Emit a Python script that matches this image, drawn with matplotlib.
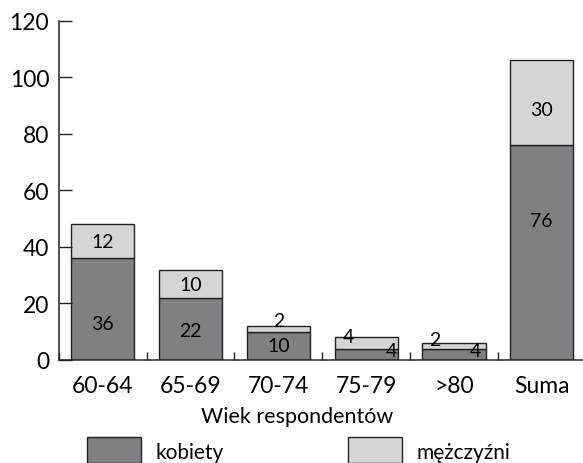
import matplotlib
matplotlib.use("Agg")
import matplotlib.pyplot as plt
from matplotlib.patches import Rectangle

# dane
kategorie = ["60-64", "65-69", "70-74", "75-79", ">80", "Suma"]
kobiety = [36, 22, 10, 4, 4, 76]
mezczyzni = [12, 10, 2, 4, 2, 30]

# gdzie stoja etykiety (x offset, y)
poz_kobiety = [(0, 13), (0, 10.6), (0, 5), (0.29, 3.2), (0.24, 3.2), (0, 49.5)]
poz_mezczyzni = [(0, 42), (0, 26.6), (0, 13.8), (-0.2, 8.2), (-0.22, 7.4), (0, 88.5)]

plt.rcParams['font.family'] = ['Lato', 'DejaVu Sans']

ciemny = "#7f8083"
jasny = "#d4d5d7"
linia = "#222222"

fig = plt.figure(figsize=(5.83, 4.64), dpi=100)
ax = fig.add_axes([0.101, 0.222, 0.899, 0.731])

x = list(range(len(kategorie)))
ax.bar(x, kobiety, width=0.72, color=ciemny, edgecolor=linia, linewidth=1)
ax.bar(x, mezczyzni, width=0.72, bottom=kobiety, color=jasny, edgecolor=linia, linewidth=1)

for i in x:
    dx, y = poz_kobiety[i]
    ax.text(i + dx, y, str(kobiety[i]), ha="center", va="center", fontsize=14)
    dx, y = poz_mezczyzni[i]
    ax.text(i + dx, y, str(mezczyzni[i]), ha="center", va="center", fontsize=14)

ax.set_xlim(-0.5, 5.47)
ax.set_ylim(0, 120)
ax.set_yticks([0, 20, 40, 60, 80, 100, 120])
ax.set_xticks(x)
ax.set_xticklabels(kategorie)
ax.set_xticks([i - 0.5 for i in x], minor=True)
ax.tick_params(axis="y", direction="in", length=9.5, width=1, color=linia, labelsize=16.5, pad=7)
ax.tick_params(axis="x", which="major", length=0, labelsize=16.5, pad=11)
ax.tick_params(axis="x", which="minor", direction="in", length=6, width=1, color=linia)
for s in ["top", "right"]:
    ax.spines[s].set_visible(False)
for s in ["left", "bottom"]:
    ax.spines[s].set_linewidth(1.1)
    ax.spines[s].set_color(linia)

ax.set_xlabel("Wiek respondentów", fontsize=15.5)
ax.xaxis.set_label_coords(0.454, -0.137)

# legenda
for x0, kolor, tekst in [(87, ciemny, "kobiety"), (348, jasny, "mężczyźni")]:
    fig.add_artist(Rectangle((x0 / 583, 0), 54 / 583, 26 / 464, transform=fig.transFigure,
                             facecolor=kolor, edgecolor=linia, linewidth=1))
    fig.text((x0 + 68) / 583, 1 - 453 / 464, tekst, fontsize=15, va="center")

fig.savefig("out.png", dpi=100)
